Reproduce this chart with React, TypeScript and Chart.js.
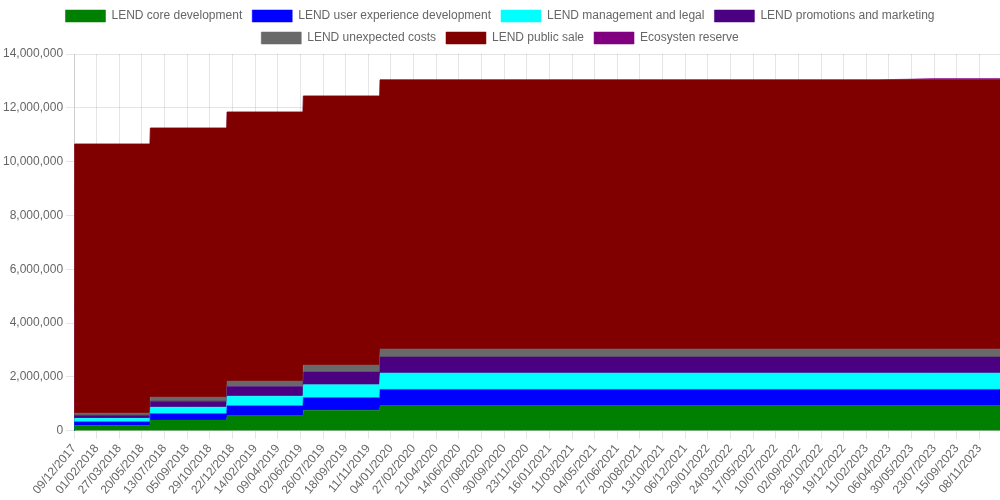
import { useEffect, useRef } from "react"
import { Chart, registerables } from "chart.js"

Chart.register(...registerables)

// dates are dd/mm/yyyy, x axis counts days from the first one
const START_DATE = "09/12/2017"
const END_DATE = "27/12/2023"

const POINT_DATES = [
  "09/12/2017", "10/12/2017",
  "08/06/2018", "09/06/2018",
  "08/12/2018", "09/12/2018",
  "08/06/2019", "09/06/2019",
  "08/12/2019", "09/12/2019",
  "09/03/2023", "21/07/2023",
  "27/12/2023",
]

const TICK_LABELS = [
  "09/12/2017", "01/02/2018", "27/03/2018", "20/05/2018", "13/07/2018", "05/09/2018",
  "29/10/2018", "22/12/2018", "14/02/2019", "09/04/2019", "02/06/2019", "26/07/2019",
  "18/09/2019", "11/11/2019", "04/01/2020", "27/02/2020", "21/04/2020", "14/06/2020",
  "07/08/2020", "30/09/2020", "23/11/2020", "16/01/2021", "11/03/2021", "04/05/2021",
  "27/06/2021", "20/08/2021", "13/10/2021", "06/12/2021", "29/01/2022", "24/03/2022",
  "17/05/2022", "10/07/2022", "02/09/2022", "26/10/2022", "19/12/2022", "11/02/2023",
  "06/04/2023", "30/05/2023", "23/07/2023", "15/09/2023", "08/11/2023",
]

const SERIES_NAMES = [
  "LEND core development",
  "LEND user experience development",
  "LEND management and legal",
  "LEND promotions and marketing",
  "LEND unexpected costs",
  "LEND public sale",
  "Ecosysten reserve",
]

const CORE_DEV = [0, 195000, 195000, 395000, 395000, 560000, 560000, 760000, 760000, 930000, 930000, 930000, 930000]
const UX_DEV = [0, 135000, 135000, 240000, 240000, 365000, 365000, 470000, 470000, 605000, 605000, 605000, 605000]
const MGMT_LEGAL = [0, 130000, 130000, 240000, 240000, 360000, 360000, 480000, 480000, 610000, 610000, 610000, 610000]
const PROMO = [0, 115000, 115000, 225000, 225000, 360000, 360000, 470000, 470000, 595000, 595000, 595000, 595000]
const UNEXPECTED = [0, 80000, 80000, 150000, 150000, 200000, 200000, 260000, 260000, 300000, 300000, 300000, 300000]
const PUBLIC_SALE = [0, 10000000, 10000000, 10000000, 10000000, 10000000, 10000000, 10000000, 10000000, 10000000, 10000000, 10000000, 10000000]
const ECO_RESERVE = [0, 0, 0, 0, 0, 0, 0, 0, 0, 0, 0, 45000, 45000]

const SERIES_VALUES = [CORE_DEV, UX_DEV, MGMT_LEGAL, PROMO, UNEXPECTED, PUBLIC_SALE, ECO_RESERVE]

const COLORS = [
  [0, 128, 0],
  [0, 0, 255],
  [0, 255, 255],
  [75, 0, 130],
  [105, 105, 105],
  [128, 0, 0],
  [128, 0, 128],
]

function toUtc(date: string) {
  const [d, m, y] = date.split("/").map(Number)
  return Date.UTC(y, m - 1, d)
}

function dayOf(date: string) {
  return Math.round((toUtc(date) - toUtc(START_DATE)) / 86400000)
}

export default function App() {
  const chartRef = useRef<HTMLCanvasElement>(null)
  const chartInstance = useRef<Chart | null>(null)

  useEffect(() => {
    if (!chartRef.current) return
    const ctx = chartRef.current.getContext("2d")
    if (!ctx) return

    if (chartInstance.current) {
      chartInstance.current.destroy()
    }

    Chart.defaults.font.family = "'Liberation Sans', Arial, sans-serif"
    Chart.defaults.color = "#666"

    const datasets = SERIES_NAMES.map((name, i) => {
      const [r, g, b] = COLORS[i]
      return {
        label: name,
        data: SERIES_VALUES[i].map((v, j) => ({ x: dayOf(POINT_DATES[j]), y: v })),
        backgroundColor: `rgb(${r}, ${g}, ${b})`,
        borderColor: `rgba(${r}, ${g}, ${b}, 0.5)`,
        borderWidth: 1,
        pointRadius: 0,
        tension: 0,
        fill: i === 0 ? "origin" : "-1",
      }
    })

    chartInstance.current = new Chart(ctx, {
      type: "line",
      data: { datasets },
      options: {
        animation: false,
        responsive: true,
        maintainAspectRatio: false,
        plugins: {
          legend: { position: "top" },
          tooltip: { enabled: false },
        },
        scales: {
          x: {
            type: "linear",
            min: 0,
            max: dayOf(END_DATE),
            afterBuildTicks: (scale: any) => {
              scale.ticks = TICK_LABELS.map((label) => ({ value: dayOf(label) }))
            },
            ticks: {
              autoSkip: false,
              maxRotation: 50,
              minRotation: 50,
              callback: (_value: any, index: number) => TICK_LABELS[index],
            },
          },
          y: {
            stacked: true,
            min: 0,
            max: 14000000,
            ticks: { stepSize: 2000000 },
          },
        },
      },
    })

    return () => {
      if (chartInstance.current) {
        chartInstance.current.destroy()
        chartInstance.current = null
      }
    }
  }, [])

  return (
    <div style={{ position: "fixed", left: 0, top: 0, width: "100vw", height: "100vh" }}>
      <canvas ref={chartRef} />
    </div>
  )
}
